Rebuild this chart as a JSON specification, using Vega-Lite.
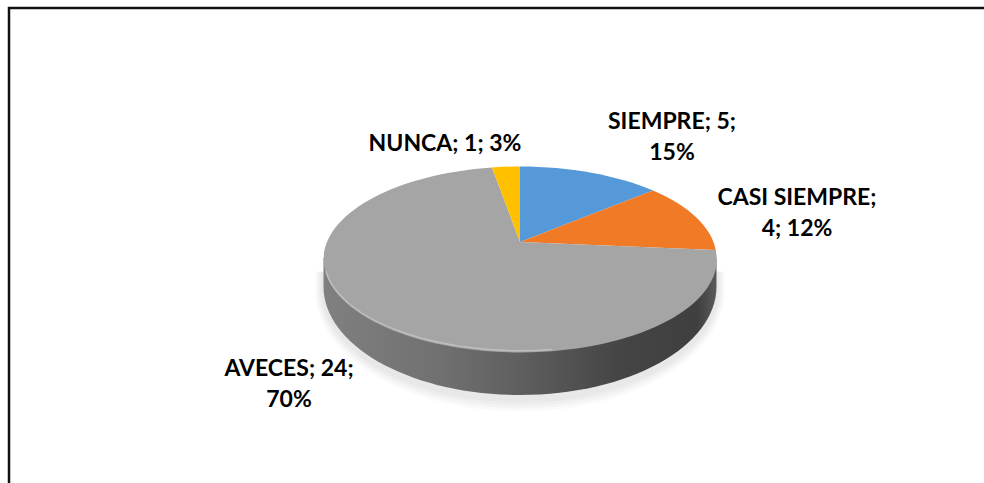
{
"$schema":"https://vega.github.io/schema/vega-lite/v6.json",
"width":984,"height":483,"padding":0,"autosize":{"type":"none"},
"background":"white",
"config":{"view":{"stroke":null}},
"title":{"text":"Gráfico N° 4: Cuantas normas de Comportamiento","anchor":"start","frame":"group","offset":0,"dx":15,"dy":1,"baseline":"alphabetic","font":"Liberation Serif","fontSize":14,"fontWeight":"normal","color":"#000000"},
"layer":[
{"data":{"values":[{"parte":"sombra"}]},"mark":{"type":"point","filled":true,"opacity":0.025,"fill":"#000000","stroke":null,"shape":"M-171,30 L-171,48 A199,113 0 0 0 227,48 L227,30 Z","size":4}},
{"data":{"values":[{"parte":"sombra"}]},"mark":{"type":"point","filled":true,"opacity":0.025,"fill":"#000000","stroke":null,"shape":"M-173,30 L-173,48 A201,116 0 0 0 229,48 L229,30 Z","size":4}},
{"data":{"values":[{"parte":"sombra"}]},"mark":{"type":"point","filled":true,"opacity":0.025,"fill":"#000000","stroke":null,"shape":"M-175,30 L-175,48 A203,119 0 0 0 231,48 L231,30 Z","size":4}},
{"data":{"values":[{"parte":"sombra"}]},"mark":{"type":"point","filled":true,"opacity":0.02,"fill":"#000000","stroke":null,"shape":"M-177,30 L-177,48 A205,122 0 0 0 233,48 L233,30 Z","size":4}},
{"data":{"values":[{"parte":"lateral"}]},"mark":{"type":"point","filled":true,"opacity":1,"stroke":null,"size":4,"shape":"M-168.5,16.5 L-168.5,45 A196.5,108.5 0 0 0 224.5,45 L224.5,16.5 Z",
"fill":{"gradient":"linear","x1":0,"y1":0,"x2":1,"y2":0,"stops":[{"offset":0,"color":"#808080"},{"offset":0.3,"color":"#707070"},{"offset":0.5,"color":"#5f5f5f"},{"offset":0.75,"color":"#454545"},{"offset":0.95,"color":"#3f3f3f"},{"offset":1,"color":"#5a5a5a"}]}}},
{"data":{"name":"sectores","values":[
{"categoria":"SIEMPRE","valor":5,"porcentaje":15,"etiqueta":"SIEMPRE; 5;\n15%"},
{"categoria":"CASI SIEMPRE","valor":4,"porcentaje":12,"etiqueta":"CASI SIEMPRE;\n4; 12%"},
{"categoria":"AVECES","valor":24,"porcentaje":70,"etiqueta":"AVECES; 24;\n70%"},
{"categoria":"NUNCA","valor":1,"porcentaje":3,"etiqueta":"NUNCA; 1; 3%"}]},
"mark":{"type":"point","filled":true,"opacity":1,"stroke":null},
"encoding":{
"size":{"value":4},
"shape":{"field":"categoria","type":"nominal","legend":null,"scale":{"domain":["SIEMPRE","CASI SIEMPRE","AVECES","NUNCA"],"range":["M28,0.5 L28,-75 A196.5,91.5 0 0 1 161,-50.9 Z","M28,0.5 L161,-50.9 A196.5,91.5 0 0 1 223.7,8.5 Z","M28,0.5 L223.7,8.5 A196.5,93 0 1 1 0,-74.1 Z","M28,0.5 L0,-74.1 A196.5,91.5 0 0 1 28,-75 Z"]}},
"color":{"field":"categoria","type":"nominal","legend":null,"scale":{"domain":["SIEMPRE","CASI SIEMPRE","AVECES","NUNCA"],"range":["#5599D8","#F07A26","#A5A5A5","#FFC000"]}}}},
{"data":{"values":[{"parte":"brillo"}]},"mark":{"type":"point","filled":false,"opacity":0.8,"fill":null,"stroke":"#c4c4c4","strokeWidth":1.5,"size":4,"shape":"M-166,30 A196.5,91.5 0 0 0 60,108"}},
{"data":{"values":[{"parte":"marco"}]},"mark":{"type":"point","filled":false,"opacity":1,"fill":null,"stroke":"#111111","strokeWidth":2.5,"size":4,"shape":"M492,-233.5 L-483,-233.5 L-483,242"}},
{"data":{"name":"rotulos","values":[
{"categoria":"SIEMPRE","valor":5,"porcentaje":15,"etiqueta":"SIEMPRE; 5;\n15%"},
{"categoria":"CASI SIEMPRE","valor":4,"porcentaje":12,"etiqueta":"CASI SIEMPRE;\n4; 12%"},
{"categoria":"AVECES","valor":24,"porcentaje":70,"etiqueta":"AVECES; 24;\n70%"},
{"categoria":"NUNCA","valor":1,"porcentaje":3,"etiqueta":"NUNCA; 1; 3%"}]},
"mark":{"type":"text","font":"Lato","fontWeight":"bold","fontSize":23,"color":"#000000","lineBreak":"\n","lineHeight":31,"align":"center","baseline":"middle"},
"encoding":{
"x":{"field":"valor","type":"quantitative","axis":null,"scale":{"domain":[1,4,5,24],"range":[445,797,672,289]}},
"y":{"field":"valor","type":"quantitative","axis":null,"scale":{"domain":[1,4,5,24],"range":[144,198,122,369]}},
"text":{"field":"etiqueta","type":"nominal"}}}
]
}
